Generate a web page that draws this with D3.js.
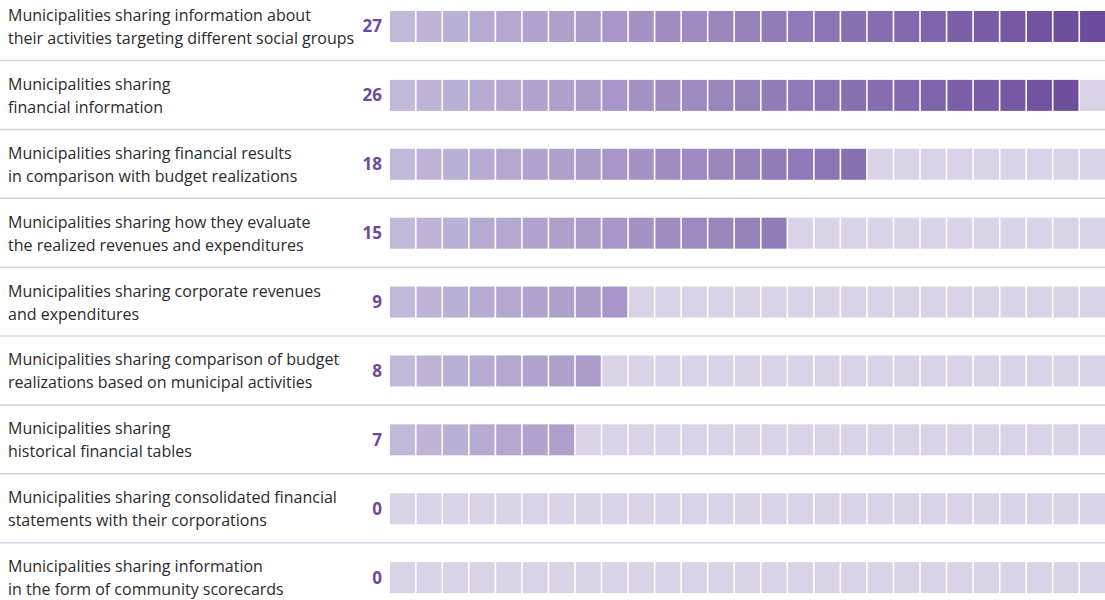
<!DOCTYPE html>
<html>
<head>
<meta charset="utf-8">
<script src="https://cdn.jsdelivr.net/npm/d3@7"></script>
<style>
  body { margin: 0; background: #fff; }
  text { font-family: "Open Sans", "Noto Sans", sans-serif; }
</style>
</head>
<body>
<script>
// categories (two lines each) and counts
const labels = [
  ["Municipalities sharing information about", "their activities targeting different social groups"],
  ["Municipalities sharing", "financial information"],
  ["Municipalities sharing financial results", "in comparison with budget realizations"],
  ["Municipalities sharing how they evaluate", "the realized revenues and expenditures"],
  ["Municipalities sharing corporate revenues", "and expenditures"],
  ["Municipalities sharing comparison of budget", "realizations based on municipal activities"],
  ["Municipalities sharing", "historical financial tables"],
  ["Municipalities sharing consolidated financial", "statements with their corporations"],
  ["Municipalities sharing information", "in the form of community scorecards"]
];
const values = [27, 26, 18, 15, 9, 8, 7, 0, 0];
const total = 27;

const width = 1105, height = 600;

const svg = d3.select("body").append("svg")
  .attr("width", width)
  .attr("height", height);

const y = d3.scaleBand()
  .domain(d3.range(labels.length))
  .range([0, 620]);

const x = d3.scaleBand()
  .domain(d3.range(total))
  .range([390, 1105])
  .paddingInner(0.06);

const fill = d3.scaleLinear()
  .domain([0, total - 1])
  .range(["#c2b8da", "#6a4b9c"])
  .interpolate(d3.interpolateRgb);

const emptyColor = "#dad3e8";

const rows = svg.selectAll("g.row")
  .data(values)
  .join("g")
  .attr("class", "row")
  .attr("transform", (d, i) => `translate(0,${y(i)})`);

// separators
rows.filter((d, i) => i < labels.length - 1)
  .append("line")
  .attr("x1", 0).attr("x2", width)
  .attr("y1", 60.5).attr("y2", 60.5)
  .attr("stroke", "#d6d0e4")
  .attr("stroke-width", 1.5);

// labels
rows.append("text")
  .attr("fill", "#2b2b2b")
  .style("font-size", "16px")
  .selectAll("tspan")
  .data((d, i) => labels[i])
  .join("tspan")
  .attr("x", 8)
  .attr("y", (t, j) => 21 + j * 23)
  .text(t => t);

// counts
rows.append("text")
  .attr("x", 382)
  .attr("y", 26.5)
  .attr("dy", "0.35em")
  .attr("text-anchor", "end")
  .attr("fill", "#6a4b9c")
  .style("font-size", "17px")
  .style("font-weight", "bold")
  .text(d => d);

// squares
rows.selectAll("rect")
  .data(d => d3.range(total).map(k => ({ k, on: k < d })))
  .join("rect")
  .attr("x", s => x(s.k))
  .attr("y", 11)
  .attr("width", x.bandwidth())
  .attr("height", 31)
  .attr("fill", s => s.on ? fill(s.k) : emptyColor);
</script>
</body>
</html>
